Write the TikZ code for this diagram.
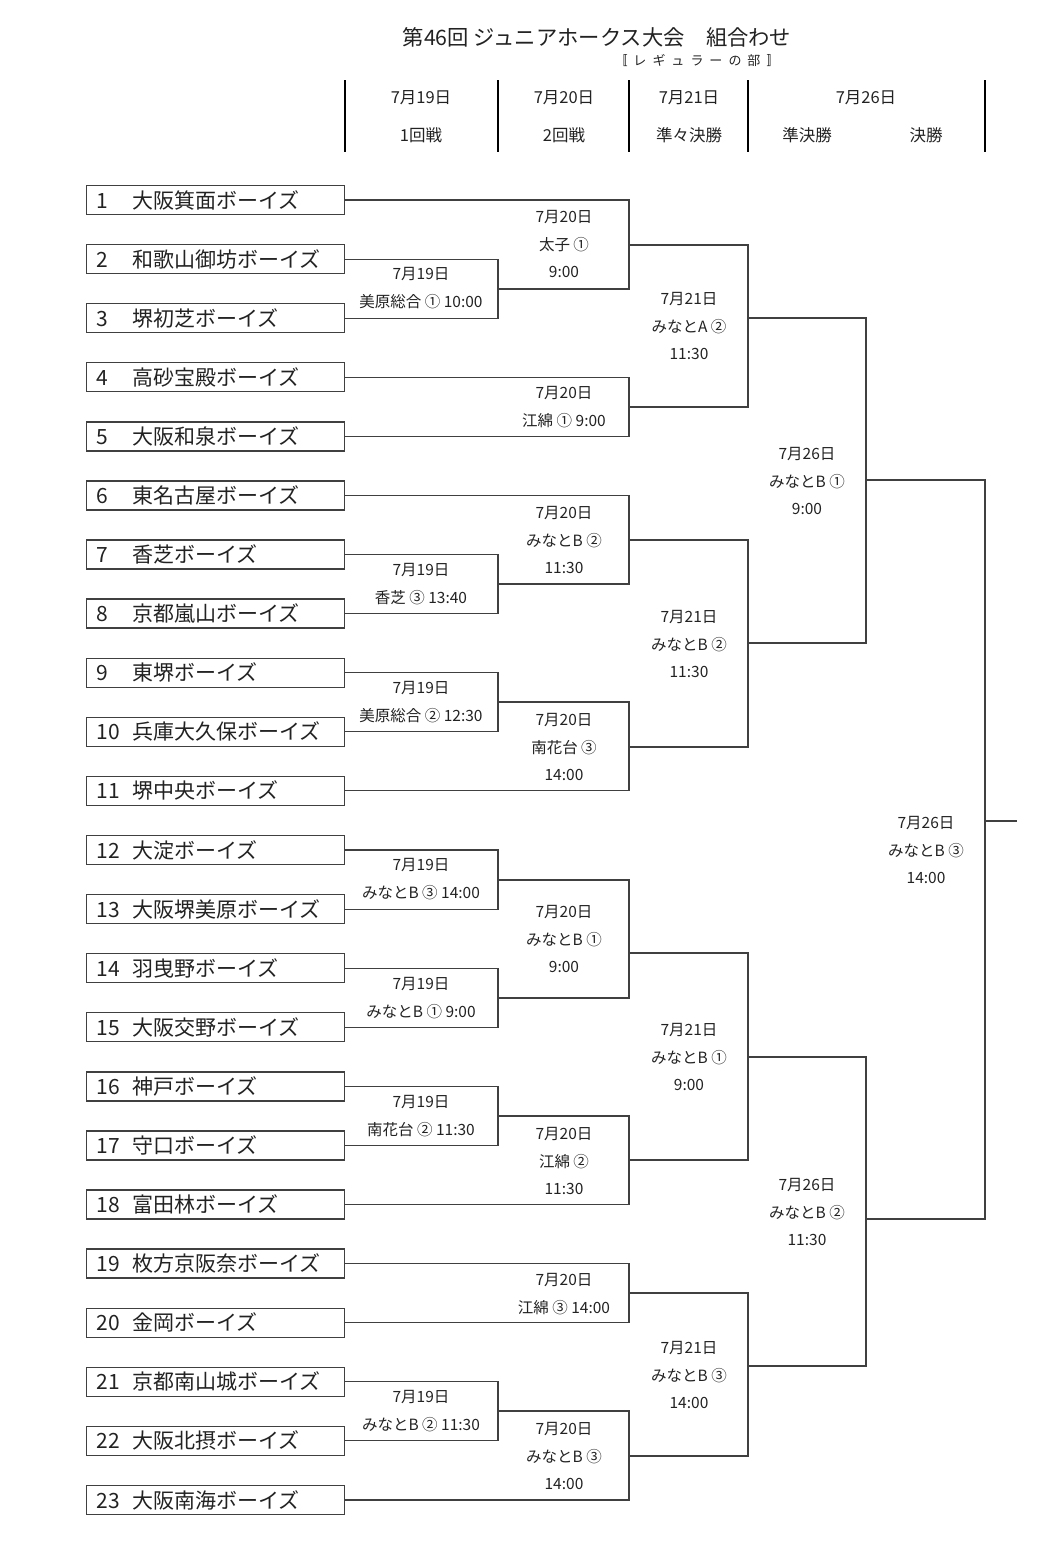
\documentclass[tikz,border=0pt]{standalone}
\usepackage{fontspec}
\setmainfont{Noto Sans CJK JP}
\definecolor{ink}{HTML}{222222}
\definecolor{rule}{HTML}{404040}

\tikzset{
  team/.style={draw=rule, line width=1.3pt, anchor=east, align=left,
    text width=238pt, minimum height=29pt, inner xsep=10pt, inner ysep=0pt,
    text=ink, font=\fontsize{21}{23}\selectfont},
  wire/.style={draw=rule, line width=1.1pt},
  info/.style={align=center, text=ink, inner sep=0pt,
    font=\fontsize{15.5}{27.5}\selectfont},
  head/.style={text=ink, inner sep=0pt, font=\fontsize{16.5}{18}\selectfont},
  sep/.style={draw=black, line width=1.8pt},
}

\begin{document}
\begin{tikzpicture}[x=1pt,y=-1pt]
\useasboundingbox (0,0) rectangle (1049,1559);

% title
\node[text=ink, font=\fontsize{21.3}{24}\selectfont] (title) at (597,37) {第46回 ジュニアホークス大会　組合わせ};
\node[text=ink, font=\fontsize{13}{15}\selectfont] (sub) at (697,61)
  {〚\hspace{6pt}レ\hspace{6pt}ギ\hspace{6pt}ュ\hspace{6pt}ラ\hspace{6pt}ー\hspace{6pt}の\hspace{6pt}部\hspace{6pt}〛};

% header
\foreach \x in {345,498,629,748,985}
  \draw[sep] (\x,80) -- (\x,152);
\node[head] (d1) at (421,98) {7月19日};
\node[head] (d2) at (564,98) {7月20日};
\node[head] (d3) at (689,98) {7月21日};
\node[head] (d4) at (866,98) {7月26日};
\node[head] (r1) at (421,135) {1回戦};
\node[head] (r2) at (564,135) {2回戦};
\node[head] (r3) at (689,135) {準々決勝};
\node[head] (r4) at (807,135) {準決勝};
\node[head] (r5) at (926,135) {決勝};

% teams
\foreach \n/\name in {1/大阪箕面ボーイズ, 2/和歌山御坊ボーイズ, 3/堺初芝ボーイズ,
    4/高砂宝殿ボーイズ, 5/大阪和泉ボーイズ, 6/東名古屋ボーイズ, 7/香芝ボーイズ,
    8/京都嵐山ボーイズ, 9/東堺ボーイズ, 10/兵庫大久保ボーイズ, 11/堺中央ボーイズ,
    12/大淀ボーイズ, 13/大阪堺美原ボーイズ, 14/羽曳野ボーイズ, 15/大阪交野ボーイズ,
    16/神戸ボーイズ, 17/守口ボーイズ, 18/富田林ボーイズ, 19/枚方京阪奈ボーイズ,
    20/金岡ボーイズ, 21/京都南山城ボーイズ, 22/大阪北摂ボーイズ, 23/大阪南海ボーイズ}
  \node[team] (t\n) at (345,{200+(\n-1)*59.09}) {\makebox[36pt][l]{\n}\name};

% match points
\coordinate (a1) at (498,289);
\coordinate (a2) at (498,584);
\coordinate (a3) at (498,702);
\coordinate (a4) at (498,880);
\coordinate (a5) at (498,998);
\coordinate (a6) at (498,1116);
\coordinate (a7) at (498,1411);
\coordinate (b1) at (629,245);
\coordinate (b2) at (629,407);
\coordinate (b3) at (629,540);
\coordinate (b4) at (629,747);
\coordinate (b5) at (629,953);
\coordinate (b6) at (629,1160);
\coordinate (b7) at (629,1293);
\coordinate (b8) at (629,1456);
\coordinate (c1) at (748,318);
\coordinate (c2) at (748,643);
\coordinate (c3) at (748,1057);
\coordinate (c4) at (748,1366);
\coordinate (s1) at (866,480);
\coordinate (s2) at (866,1219);
\coordinate (fin) at (985,821);
\coordinate (tail) at (1017,821);

% 1st round
\draw[wire] (t2.east) -| (a1) |- (t3.east);
\draw[wire] (t7.east) -| (a2) |- (t8.east);
\draw[wire] (t9.east) -| (a3) |- (t10.east);
\draw[wire] (t12.east) -| (a4) |- (t13.east);
\draw[wire] (t14.east) -| (a5) |- (t15.east);
\draw[wire] (t16.east) -| (a6) |- (t17.east);
\draw[wire] (t21.east) -| (a7) |- (t22.east);
% 2nd round
\draw[wire] (t1.east) -| (b1) |- (a1);
\draw[wire] (t4.east) -| (b2) |- (t5.east);
\draw[wire] (t6.east) -| (b3) |- (a2);
\draw[wire] (a3) -| (b4) |- (t11.east);
\draw[wire] (a4) -| (b5) |- (a5);
\draw[wire] (a6) -| (b6) |- (t18.east);
\draw[wire] (t19.east) -| (b7) |- (t20.east);
\draw[wire] (a7) -| (b8) |- (t23.east);
% quarter finals
\draw[wire] (b1) -| (c1) |- (b2);
\draw[wire] (b3) -| (c2) |- (b4);
\draw[wire] (b5) -| (c3) |- (b6);
\draw[wire] (b7) -| (c4) |- (b8);
% semi finals, final
\draw[wire] (c1) -| (s1) |- (c2);
\draw[wire] (c3) -| (s2) |- (c4);
\draw[wire] (s1) -| (fin) |- (s2);
\draw[wire] (fin) -- (tail);

% match info
\node[info] (ia1) at (421,288) {7月19日\\美原総合 ① 10:00};
\node[info] (ia2) at (421,584) {7月19日\\香芝 ③ 13:40};
\node[info] (ia3) at (421,702) {7月19日\\美原総合 ② 12:30};
\node[info] (ia4) at (421,879) {7月19日\\みなとB ③ 14:00};
\node[info] (ia5) at (421,998) {7月19日\\みなとB ① 9:00};
\node[info] (ia6) at (421,1116) {7月19日\\南花台 ② 11:30};
\node[info] (ia7) at (421,1411) {7月19日\\みなとB ② 11:30};
\node[info] (ib1) at (564,244) {7月20日\\太子 ①\\9:00};
\node[info] (ib2) at (564,407) {7月20日\\江綿 ① 9:00};
\node[info] (ib3) at (564,540) {7月20日\\みなとB ②\\11:30};
\node[info] (ib4) at (564,747) {7月20日\\南花台 ③\\14:00};
\node[info] (ib5) at (564,939) {7月20日\\みなとB ①\\9:00};
\node[info] (ib6) at (564,1161) {7月20日\\江綿 ②\\11:30};
\node[info] (ib7) at (564,1294) {7月20日\\江綿 ③ 14:00};
\node[info] (ib8) at (564,1456) {7月20日\\みなとB ③\\14:00};
\node[info] (ic1) at (689,326) {7月21日\\みなとA ②\\11:30};
\node[info] (ic2) at (689,644) {7月21日\\みなとB ②\\11:30};
\node[info] (ic3) at (689,1057) {7月21日\\みなとB ①\\9:00};
\node[info] (ic4) at (689,1375) {7月21日\\みなとB ③\\14:00};
\node[info] (is1) at (807,481) {7月26日\\みなとB ①\\9:00};
\node[info] (is2) at (807,1212) {7月26日\\みなとB ②\\11:30};
\node[info] (ifin) at (926,850) {7月26日\\みなとB ③\\14:00};
\end{tikzpicture}
\end{document}
